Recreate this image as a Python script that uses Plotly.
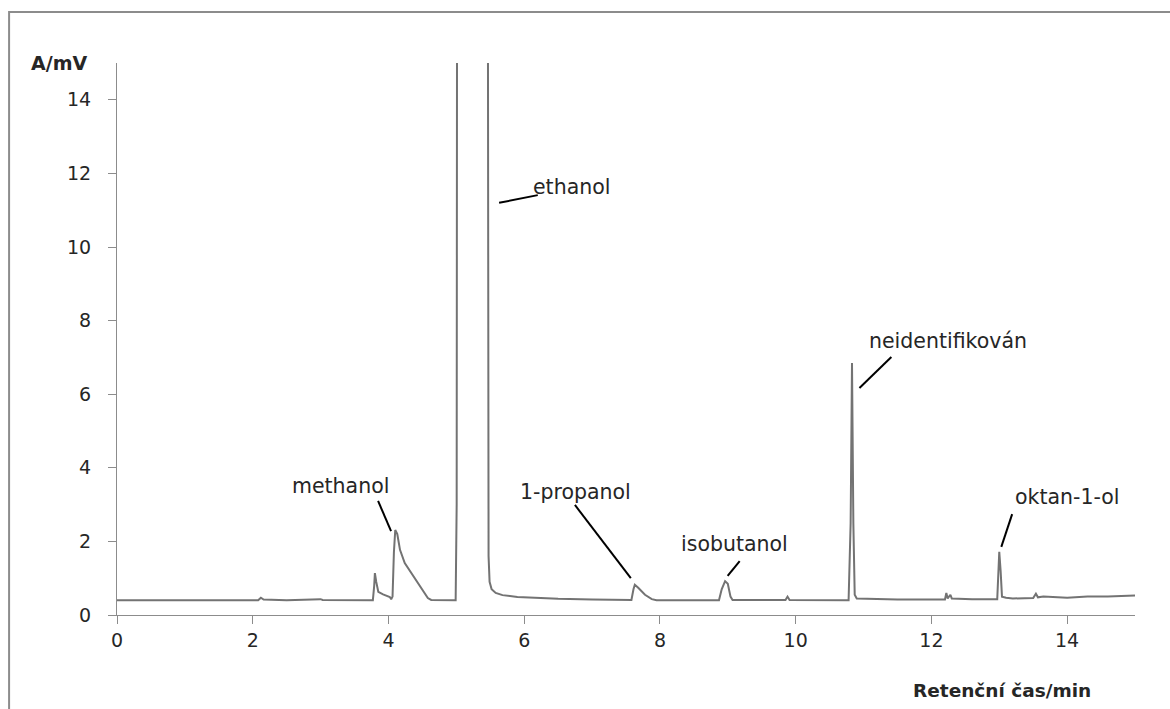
import plotly.graph_objects as go

# Chromatogram trace (retention time / min, signal / mV)
time_min = [0.0, 2.08, 2.12, 2.16, 2.5, 2.97, 3.0, 3.03, 3.5, 3.77, 3.79, 3.80, 3.82, 3.85, 3.92, 4.02, 4.04, 4.06,
            4.08, 4.10, 4.13, 4.17, 4.24, 4.33, 4.42, 4.50, 4.58, 4.63, 4.75, 4.99, 5.005, 5.02, 5.45, 5.465,
            5.475, 5.49, 5.52, 5.58, 5.68, 5.9, 6.5, 7.0, 7.58, 7.61, 7.63, 7.68, 7.78, 7.88, 7.95, 8.87, 8.91, 8.96,
            9.0, 9.04, 9.07, 9.85, 9.88, 9.91, 10.78, 10.81, 10.83, 10.85, 10.87, 10.9, 11.5, 12.2, 12.22, 12.24,
            12.28, 12.30, 12.6, 12.97, 12.99, 13.0, 13.02, 13.04, 13.1, 13.2, 13.5, 13.54, 13.57, 13.65, 14.0,
            14.3, 14.6, 15.0]
signal_mv = [0.40, 0.40, 0.47, 0.42, 0.40, 0.41, 0.43, 0.41, 0.40, 0.40, 0.80, 1.14, 0.90, 0.63, 0.56, 0.49, 0.43, 0.50,
             1.70, 2.31, 2.20, 1.77, 1.41, 1.15, 0.90, 0.68, 0.46, 0.41, 0.40, 0.40, 3.0, 40.0, 40.0, 6.0,
             1.6, 0.9, 0.70, 0.60, 0.54, 0.49, 0.44, 0.42, 0.41, 0.70, 0.82, 0.74, 0.55, 0.43, 0.40, 0.40, 0.70, 0.92,
             0.85, 0.50, 0.41, 0.41, 0.50, 0.41, 0.40, 2.5, 6.85, 2.5, 0.55, 0.45, 0.42, 0.42, 0.60, 0.45,
             0.55, 0.45, 0.43, 0.43, 1.2, 1.72, 1.2, 0.50, 0.47, 0.45, 0.46, 0.58, 0.48, 0.50, 0.47,
             0.50, 0.50, 0.53]

# Peak labels
label_text = ["methanol", "ethanol", "1-propanol", "isobutanol", "neidentifikován", "oktan-1-ol"]
label_x = [3.30, 6.69, 6.76, 9.10, 12.25, 14.0]
label_y = [3.51, 11.63, 3.34, 1.93, 7.45, 3.21]
leader_x0 = [3.847, 5.63, 6.747, 9.175, 11.41, 13.19]
leader_y0 = [3.10, 11.20, 2.99, 1.467, 7.01, 2.74]
leader_x1 = [4.038, 6.20, 7.571, 8.998, 10.94, 13.03]
leader_y1 = [2.28, 11.41, 1.005, 1.06, 6.17, 1.85]

x_ticks = [0, 2, 4, 6, 8, 10, 12, 14]
y_ticks = [0, 2, 4, 6, 8, 10, 12, 14]

FONT = "DejaVu Sans"
TXT = "#262626"

fig = go.Figure()
fig.add_trace(go.Scatter(x=time_min, y=signal_mv, mode="lines",
                         line=dict(color="#737373", width=2), hoverinfo="skip", showlegend=False))

shapes = []
for x0, y0, x1, y1 in zip(leader_x0, leader_y0, leader_x1, leader_y1):
    shapes.append(dict(type="line", xref="x", yref="y", x0=x0, y0=y0, x1=x1, y1=y1,
                       line=dict(color="black", width=2)))
# outer chart border
shapes.append(dict(type="rect", xref="paper", yref="paper", x0=-0.106, y0=-0.3, x1=1.2, y1=1.0924,
                   line=dict(color="#8c8c8c", width=2), layer="below"))

annotations = []
for t, x, y in zip(label_text, label_x, label_y):
    annotations.append(dict(x=x, y=y, xref="x", yref="y", text=t, showarrow=False,
                            font=dict(family=FONT, size=20.5, color=TXT)))
annotations.append(dict(x=-0.086, y=1.0, xref="paper", yref="paper", text="<b>A/mV</b>", showarrow=False,
                        xanchor="left", yanchor="middle", font=dict(family=FONT, size=19, color=TXT)))
annotations.append(dict(x=0.869, y=-0.136, xref="paper", yref="paper", text="<b>Retenční čas/min</b>",
                        showarrow=False, xanchor="center", yanchor="middle",
                        font=dict(family=FONT, size=18.5, color=TXT)))

fig.update_layout(
    width=1170, height=709,
    margin=dict(l=117, r=35, t=63, b=94),
    paper_bgcolor="white", plot_bgcolor="white",
    shapes=shapes, annotations=annotations,
    xaxis=dict(range=[0, 15], tickvals=x_ticks, showgrid=False, zeroline=False,
               showline=True, linecolor="#8c8c8c", linewidth=1,
               ticks="outside", ticklen=8, tickcolor="#8c8c8c",
               tickfont=dict(family=FONT, size=19, color=TXT)),
    yaxis=dict(range=[0, 15], tickvals=y_ticks, showgrid=False, zeroline=False,
               showline=True, linecolor="#8c8c8c", linewidth=1,
               ticks="outside", ticklen=8, tickcolor="#8c8c8c",
               tickfont=dict(family=FONT, size=19, color=TXT), ticklabelstandoff=13),
)

fig.write_html("out.html")
